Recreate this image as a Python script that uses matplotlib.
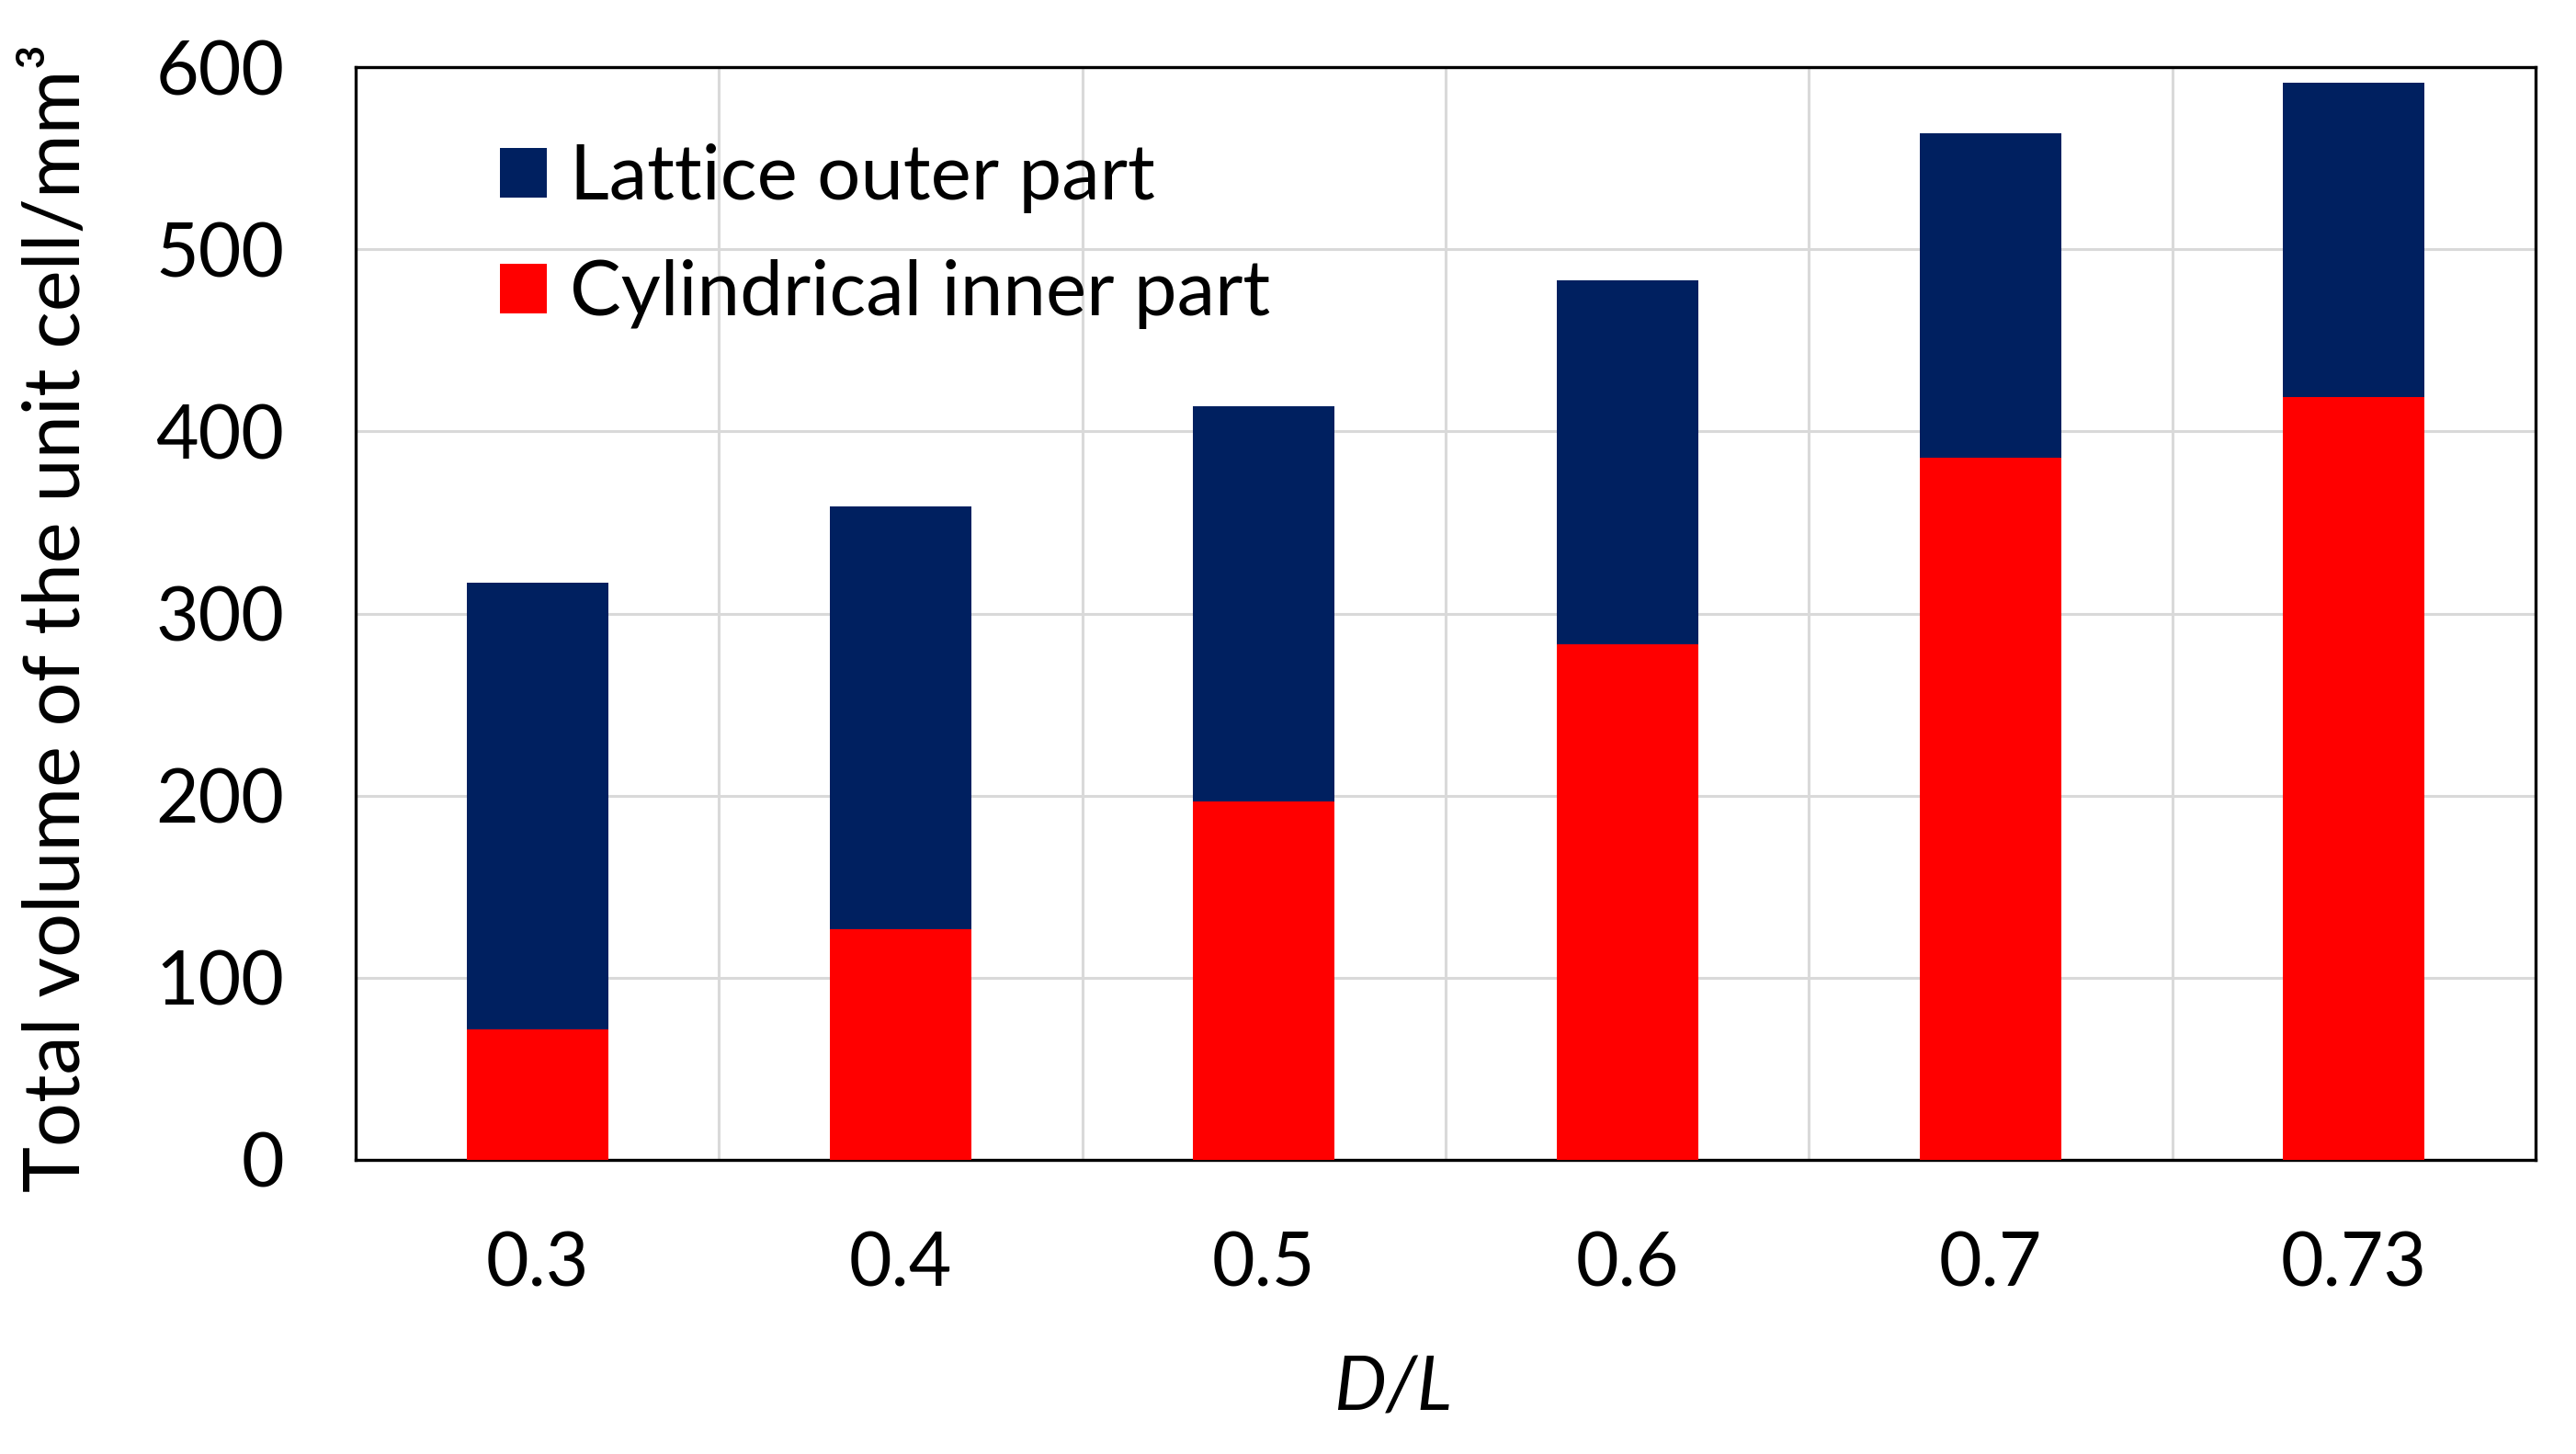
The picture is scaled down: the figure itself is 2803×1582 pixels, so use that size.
import numpy as np
import matplotlib
matplotlib.use("Agg")
import matplotlib.pyplot as plt

plt.rcParams["font.family"] = ["Lato", "DejaVu Sans"]

# D/L categories and stacked volumes (mm^3)
dl_labels = ["0.3", "0.4", "0.5", "0.6", "0.7", "0.73"]
inner_part = [71.6, 126.6, 197.0, 283.3, 385.3, 418.7]
outer_part = [245.4, 232.4, 217.0, 199.7, 178.5, 172.5]
y_ticks = [0, 100, 200, 300, 400, 500, 600]

BLUE = "#002060"
RED = "#FF0000"
GRID = "#D9D9D9"

fig = plt.figure(figsize=(28.03, 15.82), dpi=100)
ax = fig.add_axes([387 / 2803, 1 - 1262 / 1582, (2759 - 387) / 2803, (1262 - 73) / 1582])

x = np.arange(len(dl_labels))
w = 0.39
ax.bar(x, inner_part, width=w, color=RED, label="Cylindrical inner part", zorder=3)
ax.bar(x, outer_part, width=w, bottom=inner_part, color=BLUE, label="Lattice outer part", zorder=3)

ax.set_xlim(-0.5, len(dl_labels) - 0.5)
ax.set_ylim(0, 600)
ax.set_yticks(y_ticks)
ax.set_xticks(x)
ax.set_xticklabels(dl_labels)
ax.set_xticks(x[:-1] + 0.5, minor=True)

ax.grid(axis="y", which="major", color=GRID, lw=2.2, zorder=0)
ax.grid(axis="x", which="minor", color=GRID, lw=2.2, zorder=0)
ax.set_axisbelow(True)

ax.tick_params(axis="both", which="both", length=0, labelsize=58)
ax.tick_params(axis="y", pad=56)
ax.tick_params(axis="x", pad=56)

for sp in ax.spines.values():
    sp.set_color("black")
    sp.set_linewidth(2.4)

# legend: blue first, red second
h, l = ax.get_legend_handles_labels()
ax.legend(h[::-1], l[::-1], loc="upper left", bbox_to_anchor=(0.066, 0.93),
          frameon=False, fontsize=60, handlelength=0.62, handleheight=0.62,
          handletextpad=0.3, labelspacing=0.6, borderpad=0, borderaxespad=0)

fig.text(63 / 2803, 1 - 672 / 1582, "Total volume of the unit cell/mm³",
         rotation=90, ha="center", va="center", fontsize=61)
fig.text(1515 / 2803, 1 - 1512 / 1582, "D/L", style="italic",
         ha="center", va="center", fontsize=58)

fig.savefig("out.png", dpi=100, facecolor="white")
